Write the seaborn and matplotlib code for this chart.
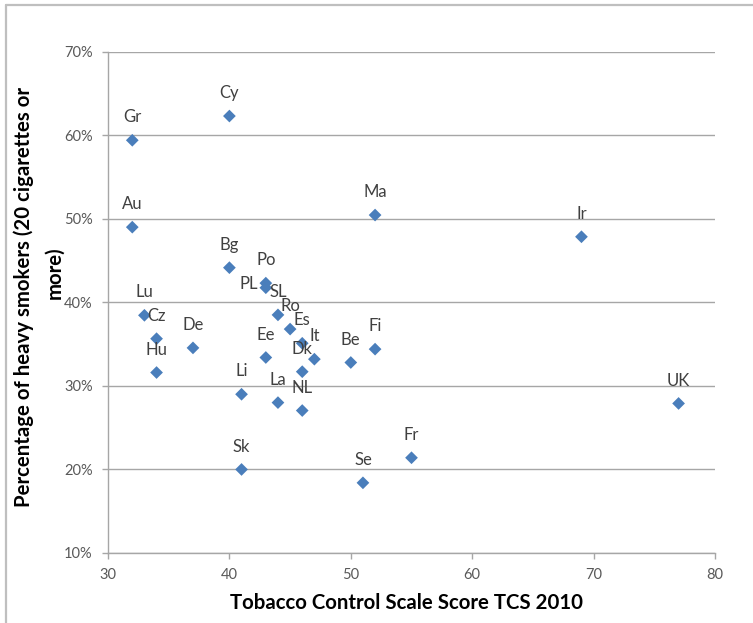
import matplotlib
matplotlib.use("Agg")
import matplotlib.pyplot as plt
import seaborn as sns
import pandas as pd
from matplotlib.lines import Line2D
from matplotlib.ticker import FuncFormatter

countries = ["Gr", "Cy", "Au", "Ma", "Ir", "Bg", "Po", "PL", "SL", "Ro", "Es", "It",
             "Ee", "Dk", "Lu", "Cz", "Hu", "De", "Li", "La", "NL", "Be", "Fi", "UK",
             "Sk", "Se", "Fr"]
tcs_score = [32, 40, 32, 52, 69, 40, 43, 43, 44, 45, 46, 47,
             43, 46, 33, 34, 34, 37, 41, 44, 46, 50, 52, 77,
             41, 51, 55]
heavy_smokers = [59.4, 62.3, 49.0, 50.45, 47.85, 44.15, 42.3, 41.75, 38.5, 36.8, 35.1, 33.2,
                 33.4, 31.7, 38.45, 35.65, 31.6, 34.55, 29.0, 28.0, 27.05, 32.8, 34.4, 27.9,
                 20.0, 18.4, 21.4]

x_ticks = [30, 40, 50, 60, 70, 80]
y_ticks = [10, 20, 30, 40, 50, 60, 70]

x_title = "Tobacco Control Scale Score TCS 2010"
y_title_line1 = "Percentage of heavy smokers (20 cigarettes or"
y_title_line2 = "more)"

df = pd.DataFrame({"country": countries, "tcs": tcs_score, "pct": heavy_smokers})

sns.set_theme(style="white")
plt.rcParams["font.family"] = ["Lato", "DejaVu Sans"]

fig = plt.figure(figsize=(7.53, 6.23), dpi=100)
ax = fig.add_axes([108 / 753, 1 - 553 / 623, (715 - 108) / 753, (553 - 51.7) / 623])

sns.scatterplot(data=df, x="tcs", y="pct", marker="D", s=42, color="#4A7EBB",
                edgecolor="none", linewidth=0, ax=ax, zorder=3)

for name, xv, yv in zip(countries, tcs_score, heavy_smokers):
    if name == "PL":
        off = (-12, 2.5)
    else:
        off = (0, 16.5)
    ax.annotate(name, (xv, yv), xytext=off, textcoords="offset points",
                ha="center", va="center", fontsize=12, color="#404040", zorder=4)

ax.set_xlim(30, 80)
ax.set_ylim(10, 70)
ax.set_xticks(x_ticks)
ax.set_yticks(y_ticks)
ax.yaxis.set_major_formatter(FuncFormatter(lambda v, p: f"{int(round(v))}%"))

ax.grid(axis="y", color="#A6A6A6", linewidth=1.0)
ax.grid(axis="x", visible=False)
ax.set_axisbelow(True)

for side in ["top", "right"]:
    ax.spines[side].set_visible(False)
for side in ["left", "bottom"]:
    ax.spines[side].set_color("#A6A6A6")
    ax.spines[side].set_linewidth(1.0)

ax.tick_params(axis="both", which="major", direction="out", length=4, width=1,
               color="#A6A6A6", labelsize=10.5, labelcolor="#595959",
               left=True, bottom=True)
ax.tick_params(axis="y", pad=7)
ax.tick_params(axis="x", pad=7)
ax.set_xlabel("")
ax.set_ylabel("")

fig.text(406 / 753, 1 - 603 / 623, x_title, fontsize=14.7, fontweight="bold",
         color="black", ha="center", va="center")
fig.text(24 / 753, 1 - 297 / 623, y_title_line1, fontsize=14.7, fontweight="bold",
         color="black", ha="center", va="center", rotation=90)
fig.text(54 / 753, 1 - 273 / 623, y_title_line2, fontsize=14.7, fontweight="bold",
         color="black", ha="center", va="center", rotation=90)

# chart area border (cropped at right and bottom)
fig.add_artist(Line2D([6 / 753, 1.01], [1 - 5 / 623, 1 - 5 / 623],
                      transform=fig.transFigure, color="#BFBFBF", linewidth=1.6))
fig.add_artist(Line2D([6 / 753, 6 / 753], [-0.01, 1 - 5 / 623],
                      transform=fig.transFigure, color="#BFBFBF", linewidth=1.6))

fig.savefig("out.png", dpi=100)
